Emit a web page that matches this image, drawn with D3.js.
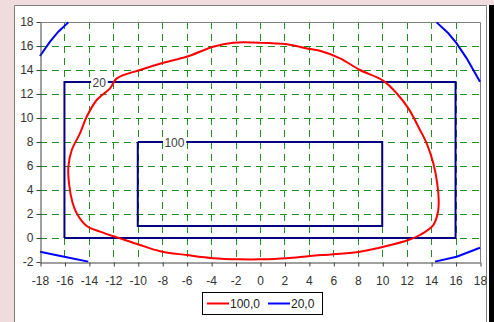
<!DOCTYPE html>
<html><head><meta charset="utf-8">
<script src="https://cdn.jsdelivr.net/npm/d3@7"></script>
<style>body{margin:0;background:#fff}svg{display:block}</style>
</head><body><svg id="c" width="494" height="322"></svg>
<script>
const xTicks=[-18,-16,-14,-12,-10,-8,-6,-4,-2,0,2,4,6,8,10,12,14,16,18];
const yTicks=[-2,0,2,4,6,8,10,12,14,16,18];
const seriesNames=["100,0","20,0"];
// red isoline 100
const contour100=[[0,16.27],[2.2,16.14],[3.85,15.8],[4.9,15.6],[6.55,14.97],[8.18,14.0],[10.1,13.1],[11.18,12.06],[12.14,10.8],[13.09,9.0],[13.64,7.89],[14.18,6.22],[14.5,4.56],[14.62,3.2],[14.55,2.1],[14.18,1.08],[13.09,0.25],[12.14,-0.17],[10.36,-0.67],[8.18,-1.14],[6.0,-1.35],[4.09,-1.5],[2.18,-1.69],[0,-1.78],[-1.64,-1.78],[-3.82,-1.69],[-6.0,-1.42],[-8.18,-1.1],[-9.82,-0.58],[-11.45,-0.03],[-13.09,0.53],[-14.18,1.0],[-15.0,2.06],[-15.35,3.0],[-15.62,4.5],[-15.68,5.94],[-15.4,7.33],[-14.73,8.72],[-14.18,10.1],[-13.36,11.5],[-12.27,12.47],[-11.72,13.3],[-9.82,14.0],[-7.9,14.6],[-6.0,15.1],[-3.84,15.94],[-2.2,16.27],[0,16.27]];
// blue isoline 20 (corner arcs)
const arcTopLeft=[[-18,15.17],[-17.18,16.36],[-16.5,17.19],[-15.68,17.97]];
const arcTopRight=[[14.45,17.97],[15.41,17.06],[16.09,16.22],[16.91,14.97],[18,13.03]];
const arcBottomLeft=[[-18,-1.14],[-15.82,-1.61],[-14.05,-1.97]];
const arcBottomRight=[[14.32,-1.97],[16.09,-1.56],[18,-0.81]];
// rectangles
const rect20=[[-16,0],[-16,13],[16,13],[16,0],[-16,0]];
const rect100=[[-10,8],[10,8],[10,1],[-10,1],[-10,8]];
const isoLabels=[{text:"20",x:-13.15,y:13},{text:"100",x:-7.0,y:8}];

const svg=d3.select("#c");
const font="'Liberation Sans', Arial, sans-serif";
// frame
svg.append("rect").attr("x",0).attr("y",0).attr("width",494).attr("height",322).attr("fill","#fff");
svg.append("rect").attr("x",0).attr("y",0).attr("width",14).attr("height",322).attr("fill","#f0dcdc");
svg.append("rect").attr("x",0).attr("y",0).attr("width",494).attr("height",5).attr("fill","#f0dcdc");
svg.append("path").attr("d","M14.5,322V5.5H486.5V322").attr("fill","none").attr("stroke","#808080");
svg.append("rect").attr("x",489).attr("y",5).attr("width",5).attr("height",317).attr("fill","#000");

const x=d3.scaleLinear().domain([-18,18]).range([40,480]);
const y=d3.scaleLinear().domain([-2,18]).range([262,22]);
const X=v=>Math.round(x(v))+0.5, Y=v=>Math.round(y(v))+0.5;

const g=svg.append("g");
// grid
const innerX=xTicks.filter(v=>v>-18&&v<18), innerY=yTicks.filter(v=>v>-2&&v<18);
g.selectAll(".gv").data(innerX).join("line").attr("x1",X).attr("x2",X).attr("y1",y(18)).attr("y2",y(-2))
 .attr("stroke","#1f8f1f").attr("stroke-dasharray","7,5").attr("stroke-width",1);
g.selectAll(".gh").data(innerY).join("line").attr("y1",Y).attr("y2",Y).attr("x1",x(-18)).attr("x2",x(18))
 .attr("stroke","#1f8f1f").attr("stroke-dasharray","7,5").attr("stroke-width",1);
// plot border top/right
g.append("path").attr("d",`M${X(-18)},${Y(18)}H${X(18)}V${Y(-2)}`).attr("fill","none").attr("stroke","#808080");

const line=d3.line().x(d=>x(d[0])).y(d=>y(d[1]));
// rectangles
[rect20,rect100].forEach(r=>g.append("path").attr("d",line(r)).attr("fill","none").attr("stroke","#000080").attr("stroke-width",2));
// blue arcs
[arcTopLeft,arcTopRight,arcBottomLeft,arcBottomRight].forEach(a=>g.append("path").attr("d",line(a)).attr("fill","none").attr("stroke","#0000ff").attr("stroke-width",2));
// red contour
const smooth=d3.line().x(d=>x(d[0])).y(d=>y(d[1])).curve(d3.curveCatmullRom.alpha(0.5));
g.append("path").attr("d",smooth(contour100)).attr("fill","none").attr("stroke","#ff0000").attr("stroke-width",2);

// iso labels
isoLabels.forEach(l=>{
  const t=g.append("text").attr("x",x(l.x)).attr("y",y(l.y)+4.5).attr("text-anchor","middle")
    .attr("font-family",font).attr("font-size",12).attr("fill","#404040").text(l.text);
  const b=t.node().getBBox();
  g.insert("rect","text").attr("x",b.x-1.5).attr("y",y(l.y)-3).attr("width",b.width+3).attr("height",6).attr("fill","#fff");
});

// axes
const fmt=d=>String(d);
const ax=svg.append("g").attr("transform",`translate(0,${Y(-2)})`)
 .call(d3.axisBottom(x).tickValues(xTicks).tickFormat(fmt).tickSize(4).tickPadding(10).tickSizeOuter(0));
const ay=svg.append("g").attr("transform",`translate(${X(-18)},0)`)
 .call(d3.axisLeft(y).tickValues(yTicks).tickFormat(fmt).tickSize(4).tickPadding(3).tickSizeOuter(0));
[ax,ay].forEach(a=>{
  a.select(".domain").attr("stroke","#404040");
  a.selectAll(".tick line").attr("stroke","#404040");
  a.selectAll("text").attr("font-family",font).attr("font-size",12).attr("fill","#333");
});
ax.selectAll(".tick line").attr("transform","translate(0.5,0)");

// legend
const lg=svg.append("g");
lg.append("rect").attr("x",202.5).attr("y",292.5).attr("width",120).attr("height",22).attr("fill","#fff").attr("stroke","#000");
const legColors=["#ff0000","#0000ff"];
const legX=[207,268];
seriesNames.forEach((n,i)=>{
  lg.append("line").attr("x1",legX[i]).attr("x2",legX[i]+22).attr("y1",303.5).attr("y2",303.5).attr("stroke",legColors[i]).attr("stroke-width",2);
  lg.append("text").attr("x",legX[i]+23).attr("y",308).attr("font-family",font).attr("font-size",12).attr("fill","#222").text(n);
});
</script></body></html>
